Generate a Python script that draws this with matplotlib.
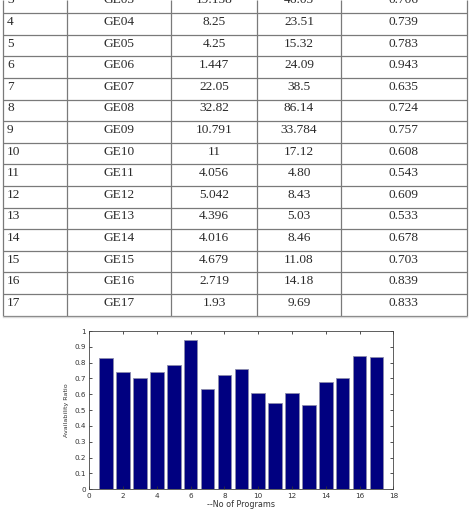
import matplotlib
matplotlib.use("Agg")
import matplotlib.pyplot as plt
import numpy as np

# ---- data ----
row_no = [3, 4, 5, 6, 7, 8, 9, 10, 11, 12, 13, 14, 15, 16, 17]
codes = ["GE03", "GE04", "GE05", "GE06", "GE07", "GE08", "GE09", "GE10",
         "GE11", "GE12", "GE13", "GE14", "GE15", "GE16", "GE17"]
col3 = ["19.158", "8.25", "4.25", "1.447", "22.05", "32.82", "10.791", "11",
        "4.056", "5.042", "4.396", "4.016", "4.679", "2.719", "1.93"]
col4 = ["46.05", "23.51", "15.32", "24.09", "38.5", "86.14", "33.784", "17.12",
        "4.80", "8.43", "5.03", "8.46", "11.08", "14.18", "9.69"]
programs = list(range(1, 18))
ratio = [0.83, 0.74, 0.706, 0.739, 0.783, 0.943, 0.635, 0.724, 0.757, 0.608,
         0.543, 0.609, 0.533, 0.678, 0.703, 0.839, 0.833]
x_ticks = [0, 2, 4, 6, 8, 10, 12, 14, 16, 18]
y_ticks = [0, 0.1, 0.2, 0.3, 0.4, 0.5, 0.6, 0.7, 0.8, 0.9, 1]

W, H = 470, 511
fig = plt.figure(figsize=(W / 100, H / 100), dpi=100)
fig.patch.set_facecolor("white")

# ---- table (pixel coordinates) ----
axt = fig.add_axes([0, 0, 1, 1], zorder=0)
axt.set_xlim(0, W)
axt.set_ylim(H, 0)
axt.axis("off")

col_x = [3, 66.7, 170.7, 257.3, 340.7, 466.7]
row_h = 21.6
first_top = 13.3 - row_h
n = len(row_no)
table_bottom = first_top + row_h * n
lc = "#7a7a7a"
for i in range(n + 1):
    y = first_top + row_h * i
    if y > 0:
        axt.plot([col_x[0], col_x[-1]], [y, y], color=lc, lw=0.9,
                 solid_capstyle="butt")
for x in col_x:
    axt.plot([x, x], [0, table_bottom], color=lc, lw=0.9, solid_capstyle="butt")
axt.plot([col_x[0], col_x[-1]], [table_bottom + 1.5, table_bottom + 1.5],
         color="#d8d8d8", lw=1.0)

tfont = dict(family="Liberation Serif", size=9.6, color="#2a2a2a")
for i in range(n):
    yb = first_top + row_h * i + 11.7
    axt.text(7, yb, str(row_no[i]), ha="left", va="baseline", **tfont)
    axt.text((col_x[1] + col_x[2]) / 2, yb, codes[i], ha="center", va="baseline", **tfont)
    axt.text((col_x[2] + col_x[3]) / 2, yb, col3[i], ha="center", va="baseline", **tfont)
    axt.text((col_x[3] + col_x[4]) / 2, yb, col4[i], ha="center", va="baseline", **tfont)
    axt.text((col_x[4] + col_x[5]) / 2, yb, f"{ratio[row_no[i] - 1]:.3f}",
             ha="center", va="baseline", **tfont)

# ---- bar chart ----
left, right, top, bottom = 89.3, 393.3, 331.0, 489.3
ax = fig.add_axes([left / W, (H - bottom) / H, (right - left) / W, (bottom - top) / H],
                  zorder=2)
ax.bar(programs, ratio, width=0.8, color="#000080", edgecolor="#8c8cac", linewidth=0.6)
ax.set_xlim(0, 18)
ax.set_ylim(0, 1)
ax.set_xticks(x_ticks)
ax.set_yticks(y_ticks)
ax.set_xticklabels([str(v) for v in x_ticks])
ax.set_yticklabels(["0" if v == 0 else ("1" if v == 1 else f"{v:.1f}") for v in y_ticks])
ax.tick_params(direction="in", length=2.5, width=0.6, labelsize=5.2,
               top=True, right=True, colors="#333333", pad=2.5)
for s in ax.spines.values():
    s.set_linewidth(0.6)
    s.set_color("#444444")
ax.set_xlabel("--No of Programs", fontsize=5.8, color="#333333", labelpad=1)
ax.set_ylabel("Availability Ratio", fontsize=4.6, color="#333333", labelpad=4)

fig.savefig("out.png", dpi=100)
